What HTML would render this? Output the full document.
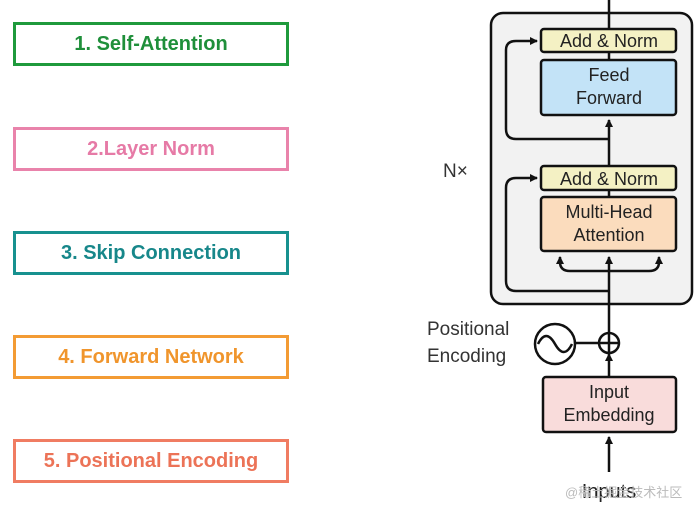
<!DOCTYPE html>
<html><head><meta charset="utf-8"><style>
body{margin:0;width:700px;height:508px;background:#fff;position:relative;overflow:hidden;font-family:"Liberation Sans",sans-serif}
.b{position:absolute;left:13px;width:270px;height:38px;border:3px solid;box-sizing:content-box;font-weight:bold;font-size:20px;line-height:38px;text-align:center}
</style></head><body>
<div class="b" style="top:22px;border-color:#1f9a3c;color:#1f8f3a">1. Self-Attention</div>
<div class="b" style="top:127px;border-color:#e983ab;color:#e67aa6">2.Layer Norm</div>
<div class="b" style="top:231px;border-color:#17918f;color:#17878a">3. Skip Connection</div>
<div class="b" style="top:335px;border-color:#f39b34;color:#f0952c">4. Forward Network</div>
<div class="b" style="top:439px;border-color:#f07c62;color:#ec7357">5. Positional Encoding</div>
<svg width="700" height="508" style="position:absolute;left:0;top:0" font-family="Liberation Sans, sans-serif">
<defs><marker id="a" markerWidth="8" markerHeight="8" refX="7" refY="4" orient="auto" markerUnits="userSpaceOnUse"><path d="M0,0 L8,4 L0,8 z" fill="#111"/></marker></defs>
<rect x="491" y="13" width="201" height="291" rx="12" fill="#f2f2f2" stroke="#111" stroke-width="2.5"/>
<g stroke="#111" stroke-width="2.5" fill="none">
<line x1="609" y1="0" x2="609" y2="29"/>
<line x1="609" y1="52" x2="609" y2="60"/>
<line x1="609" y1="190" x2="609" y2="197"/>
<line x1="609" y1="166" x2="609" y2="120" marker-end="url(#a)"/>
<line x1="609" y1="377" x2="609" y2="354" marker-end="url(#a)"/>
<line x1="609" y1="333" x2="609" y2="257" marker-end="url(#a)"/>
<line x1="609" y1="472" x2="609" y2="437" marker-end="url(#a)"/>
<path d="M609,139 H516 Q506,139 506,129 V50 Q506,41 516,41 H537" marker-end="url(#a)"/>
<path d="M609,291 H516 Q506,291 506,281 V188 Q506,178 516,178 H537" marker-end="url(#a)"/>
<path d="M609,271 H570 Q560,271 560,262 V257" marker-end="url(#a)"/>
<path d="M609,271 H649 Q659,271 659,262 V257" marker-end="url(#a)"/>
<line x1="575" y1="343" x2="598" y2="343"/>
<circle cx="555" cy="344" r="20"/>
<path d="M538,344 Q546,328 555,344 Q564,360 572,344"/>
<circle cx="609" cy="343" r="10" fill="#fff"/>
<line x1="599" y1="343" x2="619" y2="343"/><line x1="609" y1="333" x2="609" y2="353"/>
</g>
<g stroke="#111" stroke-width="2.5">
<rect x="541" y="29" width="135" height="23" rx="3" fill="#f4f1c4"/>
<rect x="541" y="60" width="135" height="55" rx="3" fill="#c3e3f7"/>
<rect x="541" y="166" width="135" height="24" rx="3" fill="#f4f1c4"/>
<rect x="541" y="197" width="135" height="54" rx="3" fill="#fbdcbd"/>
<rect x="543" y="377" width="133" height="55" rx="3" fill="#f9dcdb"/>
</g>
<g fill="#222" font-size="18" text-anchor="middle">
<text x="609" y="47">Add &amp; Norm</text>
<text x="609" y="81">Feed</text><text x="609" y="104">Forward</text>
<text x="609" y="185">Add &amp; Norm</text>
<text x="609" y="218">Multi-Head</text><text x="609" y="241">Attention</text>
<text x="609" y="398">Input</text><text x="609" y="421">Embedding</text>
<text x="609" y="498" font-size="20">Inputs</text>
</g>
<g fill="#333" font-size="19">
<text x="443" y="177">N×</text>
<text x="427" y="335">Positional</text>
<text x="427" y="362">Encoding</text>
</g>
<text x="565" y="497" font-size="13" fill="#bbb" font-family="Liberation Sans, Noto Sans CJK SC, sans-serif">@稀土掘金技术社区</text>
</svg>
</body></html>
